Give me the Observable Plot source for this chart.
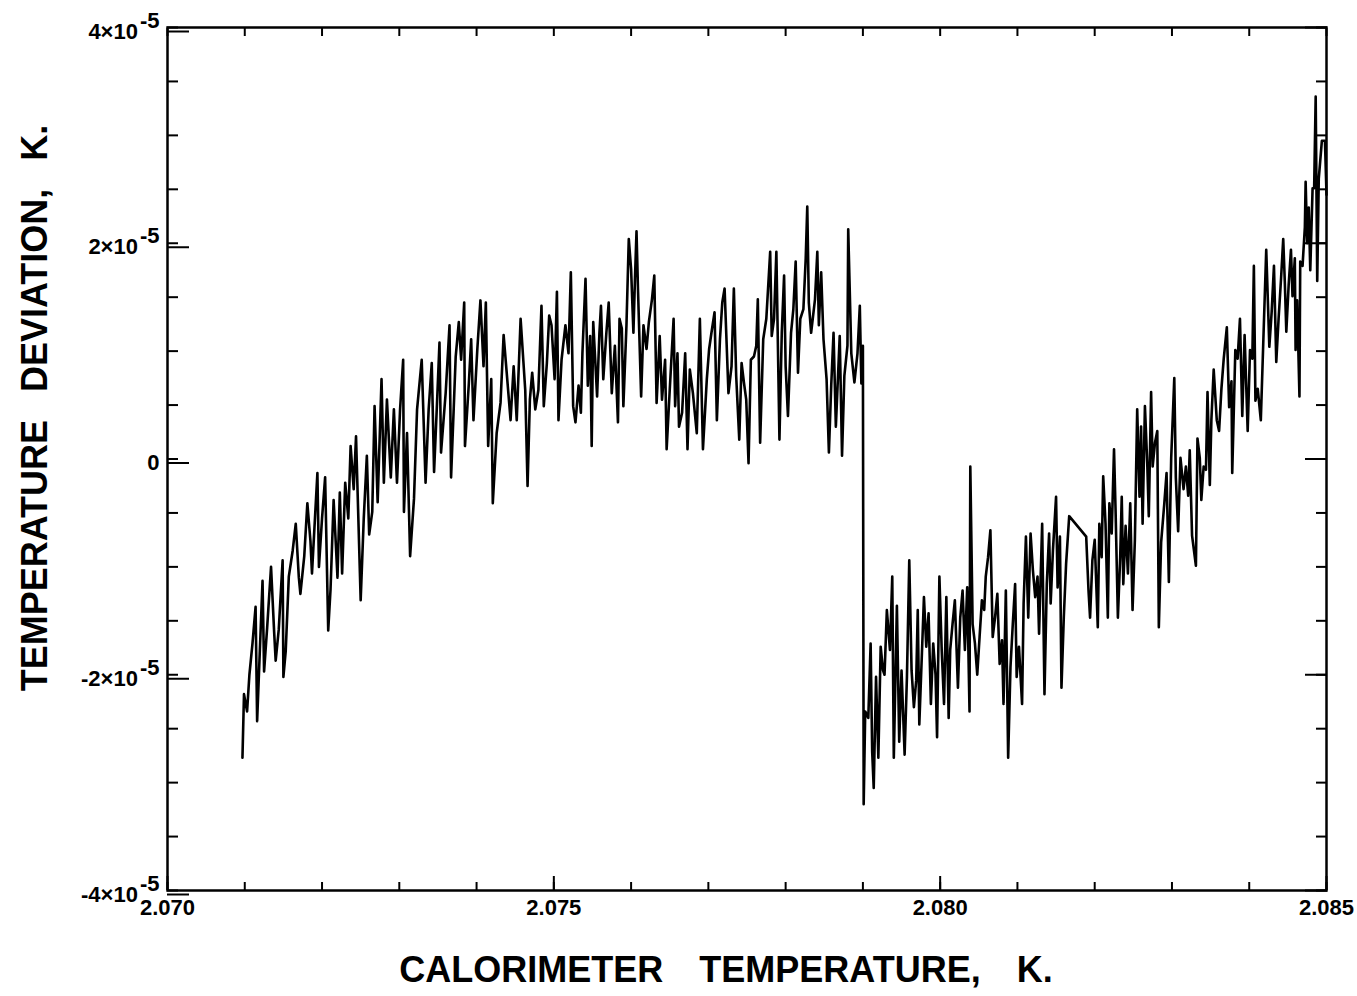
<!DOCTYPE html>
<html><head><meta charset="utf-8">
<script src="https://cdn.jsdelivr.net/npm/d3@7"></script>
<script src="https://cdn.jsdelivr.net/npm/@observablehq/plot@0.6"></script>
<style>body{margin:0;background:#fff}</style>
</head><body><div id="chart"></div>
<script>
// Calorimeter temperature (K)
const temperature = [
2.07097,2.07099,2.07103,2.07106,2.07110,2.07114,2.07116,2.07121,2.07123,2.07125,
2.07129,2.07134,2.07138,2.07140,2.07144,2.07149,2.07150,2.07153,2.07157,2.07162,
2.07166,2.07170,2.07172,2.07177,2.07181,2.07185,2.07187,2.07194,2.07196,2.07200,
2.07204,2.07208,2.07211,2.07215,2.07220,2.07223,2.07226,2.07230,2.07234,2.07237,
2.07241,2.07244,2.07250,2.07254,2.07258,2.07261,2.07265,2.07268,2.07272,2.07277,
2.07280,2.07284,2.07289,2.07293,2.07297,2.07301,2.07305,2.07306,2.07310,2.07314,
2.07319,2.07323,2.07329,2.07334,2.07338,2.07342,2.07345,2.07349,2.07352,2.07354,
2.07360,2.07365,2.07367,2.07373,2.07377,2.07380,2.07384,2.07385,2.07390,2.07393,
2.07396,2.07401,2.07405,2.07409,2.07412,2.07415,2.07419,2.07421,2.07426,2.07431,
2.07435,2.07439,2.07444,2.07448,2.07452,2.07457,
2.07463,2.07466,2.07469,2.07472,2.07476,2.07480,2.07484,2.07487,2.07491,2.07494,
2.07497,2.07501,2.07504,2.07506,2.07510,2.07515,2.07519,2.07522,2.07525,2.07528,
2.07532,2.07535,2.07537,2.07541,2.07544,2.07547,2.07549,2.07551,2.07556,2.07559,
2.07561,2.07564,2.07568,2.07571,2.07575,2.07579,2.07583,2.07585,2.07588,2.07590,
2.07594,2.07597,2.07600,2.07603,2.07605,2.07607,2.07609,2.07613,2.07616,2.07620,
2.07623,2.07627,2.07630,2.07633,2.07637,2.07640,2.07644,2.07646,2.07650,2.07655,
2.07657,2.07660,2.07662,2.07666,2.07670,2.07673,2.07676,2.07680,2.07685,2.07689,
2.07693,2.07698,2.07701,2.07704,2.07708,2.07711,2.07715,2.07718,2.07721,2.07726,
2.07730,2.07733,2.07736,2.07740,2.07743,2.07746,2.07749,2.07752,2.07755,2.07759,
2.07762,2.07764,2.07767,2.07771,2.07775,2.07780,2.07782,2.07785,2.07788,2.07792,
2.07795,2.07798,2.07800,2.07803,2.07807,2.07810,2.07813,2.07816,2.07819,2.07823,
2.07826,2.07828,2.07830,2.07833,2.07838,2.07841,2.07843,2.07846,2.07849,2.07853,
2.07856,2.07859,2.07862,2.07865,2.07870,2.07873,2.07876,2.07880,2.07881,2.07885,
2.07889,2.07893,2.07896,2.07898,2.07900,2.07901,
2.07903,2.07907,2.07910,2.07912,2.07914,2.07917,2.07920,2.07923,2.07926,2.07928,
2.07931,2.07935,2.07938,2.07940,2.07944,2.07947,2.07950,2.07954,2.07957,2.07960,
2.07963,2.07966,2.07969,2.07971,2.07973,2.07977,2.07979,2.07982,2.07985,2.07988,
2.07991,2.07994,2.07996,2.07999,2.08002,2.08005,2.08008,2.08011,2.08013,2.08016,
2.08019,2.08023,2.08026,2.08029,2.08032,2.08035,2.08038,2.08039,2.08042,2.08045,
2.08048,2.08051,2.08054,2.08057,2.08059,2.08062,2.08065,2.08068,2.08071,2.08074,
2.08077,2.08080,2.08082,2.08085,2.08088,2.08091,2.08094,2.08097,2.08099,2.08102,
2.08106,2.08108,2.08111,2.08114,2.08117,2.08120,2.08123,2.08126,2.08128,2.08132,
2.08135,2.08138,2.08141,2.08143,2.08146,2.08150,2.08152,2.08155,2.08157,2.08160,
2.08163,2.08167,2.08189,2.08192,2.08194,2.08197,2.08200,2.08204,2.08206,2.08209,
2.08211,2.08214,2.08217,2.08219,2.08222,2.08225,2.08227,2.08230,2.08233,2.08235,
2.08237,2.08240,2.08243,2.08246,2.08249,2.08252,2.08255,2.08258,2.08260,2.08262,
2.08265,2.08268,2.08270,
2.08273,2.08275,2.08278,2.08281,2.08283,2.08286,2.08290,2.08293,2.08296,2.08299,
2.08303,2.08305,2.08308,2.08311,2.08315,2.08318,2.08321,2.08323,2.08326,2.08331,
2.08333,2.08336,2.08338,2.08341,2.08344,2.08346,2.08349,2.08351,2.08354,2.08358,
2.08361,2.08364,2.08367,2.08371,2.08374,2.08377,2.08378,2.08382,2.08385,2.08388,
2.08391,2.08394,2.08398,2.08401,2.08404,2.08406,2.08408,2.08411,2.08415,2.08418,
2.08422,2.08426,2.08429,2.08432,2.08435,2.08438,2.08441,2.08444,2.08446,2.08448,
2.08451,2.08454,2.08456,2.08459,2.08460,2.08462,2.08465,2.08466,2.08469,2.08472,
2.08473,2.08475,2.08477,2.08479,2.08482,2.08484,2.08486,2.08487,2.08488,2.08490,
2.08494,2.08498,2.08500
];
// Temperature deviation (units of 1e-5 K)
const deviation = [
-2.77,-2.18,-2.34,-2.00,-1.71,-1.37,-2.43,-1.50,-1.13,-1.97,
-1.56,-1.00,-1.60,-1.87,-1.58,-0.94,-2.02,-1.78,-1.09,-0.85,
-0.60,-1.10,-1.25,-0.90,-0.41,-0.76,-1.06,-0.13,-1.00,-0.55,
-0.17,-1.59,-1.21,-0.38,-1.10,-0.31,-1.06,-0.22,-0.55,0.12,
-0.28,0.21,-1.31,-0.55,0.03,-0.70,-0.49,0.49,-0.40,0.74,
-0.22,0.55,-0.17,0.46,-0.22,0.46,0.92,-0.49,0.24,-0.90,
-0.37,0.46,0.92,-0.22,0.46,0.89,-0.12,0.55,1.08,0.06,
0.61,1.24,-0.17,0.95,1.27,0.92,1.45,0.12,0.70,1.11,
0.36,1.02,1.47,0.86,1.45,0.12,0.74,-0.41,0.24,0.52,
1.15,0.80,0.36,0.86,0.36,1.30,
0.64,-0.25,0.55,0.80,0.46,0.64,1.42,0.49,0.89,1.33,
1.24,0.74,1.55,0.36,0.92,1.24,0.98,1.73,0.49,0.34,
0.68,0.43,0.98,1.67,0.68,1.14,0.12,1.27,0.58,1.17,
1.42,0.74,1.17,1.45,0.61,1.05,0.34,1.30,1.21,0.49,
1.24,2.04,1.76,1.17,1.67,2.11,1.55,0.58,1.24,1.02,
1.27,1.48,1.70,0.52,1.14,0.55,0.92,0.09,0.64,1.30,
0.49,0.98,0.30,0.43,0.98,0.09,0.83,0.61,0.24,1.30,
0.09,0.74,1.02,1.17,1.36,0.36,1.11,1.45,1.58,0.61,
0.86,1.58,0.77,0.18,0.89,0.71,0.55,-0.04,0.92,0.95,
1.05,1.48,0.15,1.11,1.30,1.92,1.14,1.30,1.92,0.18,
1.17,1.70,0.86,0.40,1.17,1.39,1.83,0.80,1.30,1.39,
1.86,2.34,1.45,1.17,1.48,1.92,1.24,1.73,1.11,0.74,
0.06,0.68,1.17,0.30,1.14,0.03,0.77,1.05,2.13,0.98,
0.71,0.98,1.42,0.70,1.05,-3.20,
-2.34,-2.40,-1.71,-2.71,-3.05,-2.02,-2.77,-1.74,-1.96,-2.00,
-1.40,-1.77,-1.09,-2.77,-1.36,-2.62,-1.96,-2.74,-2.02,-0.94,
-1.96,-2.30,-2.05,-1.40,-2.46,-1.68,-1.28,-1.74,-1.43,-2.27,
-1.71,-2.00,-2.58,-1.09,-1.77,-2.27,-1.28,-2.40,-1.77,-1.53,
-1.31,-2.12,-1.47,-1.22,-1.77,-1.19,-2.34,-0.07,-1.53,-1.71,
-2.00,-1.65,-1.31,-1.40,-1.09,-0.91,-0.66,-1.65,-1.47,-1.25,
-1.90,-1.68,-2.27,-1.22,-2.77,-1.93,-1.53,-1.16,-2.02,-1.74,
-2.27,-1.34,-0.72,-1.47,-0.69,-1.03,-1.28,-1.09,-1.62,-0.60,
-2.18,-1.16,-0.69,-1.34,-0.84,-0.35,-1.19,-0.72,-2.12,-1.47,
-0.97,-0.53,-0.72,-1.22,-1.47,-0.94,-0.75,-1.56,-0.60,-0.91,
-0.16,-0.60,-1.47,-0.41,-0.69,0.09,-0.47,-1.47,-0.91,-0.35,
-1.16,-0.62,-1.06,-0.41,-1.40,-0.75,0.46,-0.35,0.30,-0.60,
0.49,-0.04,-0.53,
0.62,-0.07,0.15,0.26,-1.56,-0.77,-0.42,-0.13,-1.14,0.01,
0.75,-0.17,-0.67,0.01,-0.28,-0.07,-0.34,0.08,-0.71,-0.99,
0.19,0.01,-0.38,-0.07,-0.10,0.62,-0.24,0.36,0.83,0.36,
0.26,0.65,0.93,1.22,0.48,0.72,-0.13,1.01,0.93,1.30,
0.40,1.15,0.26,1.01,0.93,1.79,0.54,0.65,0.36,1.04,
1.94,1.04,1.36,1.79,0.90,1.30,1.65,2.04,1.65,1.18,
1.61,1.94,1.51,1.86,1.01,1.47,0.58,1.83,1.79,2.15,
2.57,2.00,2.33,1.75,2.51,2.51,3.36,2.51,1.65,2.60,
2.95,2.95,2.45
];
const yMajorTicks = [-4, -2, 0, 2, 4];
const yMinorTicks = [-4,-3.5,-3,-2.5,-2,-1.5,-1,-0.5,0,0.5,1,1.5,2,2.5,3,3.5,4];
const xMajorTicks = [2.070, 2.075, 2.080, 2.085];
const xMajorLabels = ["2.070", "2.075", "2.080", "2.085"];
const xMinorTicks = [2.070,2.071,2.072,2.073,2.074,2.075,2.076,2.077,2.078,2.079,2.080,2.081,2.082,2.083,2.084,2.085];
const xTitle = "CALORIMETER TEMPERATURE, K.";
const yTitle = "TEMPERATURE DEVIATION, K.";

const data = temperature.map((t, i) => ({t, d: deviation[i]}));
const font = "'Liberation Sans', Arial, Helvetica, sans-serif";
const yFmt = d => d === 0 ? "0" : `${d < 0 ? "-" : ""}${Math.abs(d)}×10^-5`;

const chart = Plot.plot({
  width: 1357, height: 996,
  marginLeft: 167, marginRight: 31, marginTop: 27, marginBottom: 106,
  style: {fontFamily: font, background: "#fff", color: "#000", overflow: "visible"},
  x: {domain: [2.070, 2.085], label: null},
  y: {domain: [-4, 4], label: null},
  marks: [
    Plot.line(data, {x: "t", y: "d", stroke: "#000", strokeWidth: 2.6, strokeLinejoin: "round"}),
    Plot.axisY(yMinorTicks, {anchor: "left", tickSize: -11, strokeWidth: 2, tickFormat: () => "", label: null}),
    Plot.axisY(yMinorTicks, {anchor: "right", tickSize: -11, strokeWidth: 2, tickFormat: () => "", label: null}),
    Plot.axisY(yMajorTicks, {anchor: "right", tickSize: -22, strokeWidth: 2, tickFormat: () => "", label: null}),
    Plot.axisY(yMajorTicks, {anchor: "left", tickSize: -22, tickPadding: 30, strokeWidth: 2, dy: 4,
      tickFormat: yFmt, fontSize: 22, fontWeight: "bold", label: null}),
    Plot.axisX(xMinorTicks, {anchor: "top", tickSize: -8, strokeWidth: 2, tickFormat: () => "", label: null}),
    Plot.axisX(xMinorTicks, {anchor: "bottom", tickSize: -8, strokeWidth: 2, tickFormat: () => "", label: null}),
    Plot.axisX(xMajorTicks, {anchor: "bottom", tickSize: -14, tickPadding: 23, strokeWidth: 2,
      tickFormat: (d, i) => xMajorLabels[i], fontSize: 22, fontWeight: "bold", label: null}),
    Plot.frame({stroke: "#000", strokeWidth: 2.5}),
    Plot.text([xTitle], {text: d => d, frameAnchor: "bottom", textAnchor: "middle", lineAnchor: "middle",
      dx: -21, dy: 80, fontSize: 36, fontWeight: "bold"}),
    Plot.text([yTitle], {text: d => d, frameAnchor: "left", textAnchor: "middle", lineAnchor: "middle",
      dx: -132, dy: -51, rotate: -90, fontSize: 36, fontWeight: "bold"})
  ]
});

const ns = "http://www.w3.org/2000/svg";
chart.querySelectorAll("text").forEach(el => {
  const s = el.textContent;
  if (s.includes("^")) {
    const [base, exp] = s.split("^");
    el.textContent = "";
    const t1 = document.createElementNS(ns, "tspan"); t1.textContent = base;
    const t2 = document.createElementNS(ns, "tspan"); t2.textContent = exp;
    t2.setAttribute("dy", "-0.5em");
    t2.setAttribute("dx", "2");
    el.append(t1, t2);
  }
  if (s === xTitle) el.style.wordSpacing = "26px";
  if (s === yTitle) el.style.wordSpacing = "18px";
});
document.getElementById("chart").append(chart);
</script>
</body></html>
